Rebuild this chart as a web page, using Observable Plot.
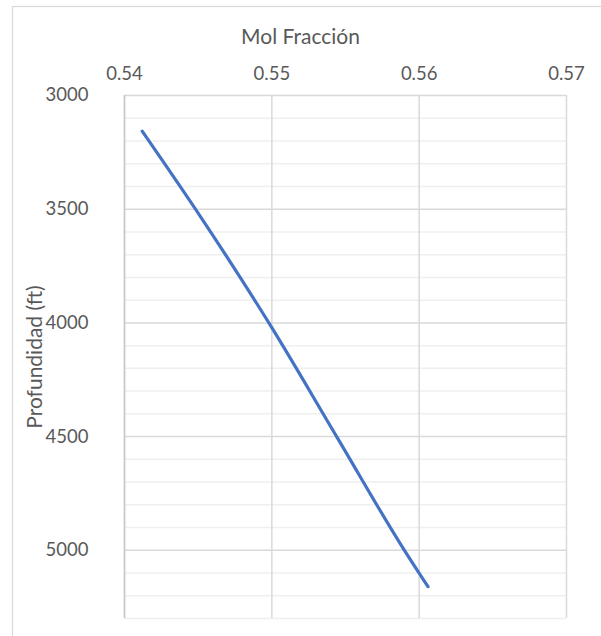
<!DOCTYPE html>
<html>
<head>
<meta charset="utf-8">
<script src="https://cdn.jsdelivr.net/npm/d3@7"></script>
<script src="https://cdn.jsdelivr.net/npm/@observablehq/plot@0.6"></script>
<style>
  html, body { margin: 0; padding: 0; background: #fff; }
  #chart { width: 601px; height: 636px; overflow: hidden; }
</style>
</head>
<body>
<div id="chart"></div>
<script>
// Data
const molFraction = [0.5412, 0.5452, 0.5498, 0.5544, 0.5590, 0.5606];
const depthFt = [3157, 3537, 4000, 4500, 5000, 5160];

const xTicks = [0.54, 0.55, 0.56, 0.57];
const yTicks = [3000, 3500, 4000, 4500, 5000];
const yMinorTicks = [3100, 3200, 3300, 3400, 3600, 3700, 3800, 3900, 4100, 4200, 4300, 4400, 4600, 4700, 4800, 4900, 5100, 5200, 5300];

const xTitle = "Mol Fracción";
const yTitle = "Profundidad (ft)";

const points = molFraction.map((x, i) => ({x, y: depthFt[i]}));

const FONT = "Lato, 'Open Sans', sans-serif";
const TEXT = "#595959";

const chart = Plot.plot({
  width: 601,
  height: 636,
  marginLeft: 124,
  marginRight: 35,
  marginTop: 95,
  marginBottom: 18,
  style: {fontFamily: FONT, fontSize: "18px", color: TEXT, background: "#fff"},
  x: {domain: [0.54, 0.57]},
  y: {domain: [3000, 5300], reverse: true},
  marks: [
    Plot.ruleY(yMinorTicks, {stroke: "#efefef", strokeWidth: 1.5}),
    Plot.ruleY(yTicks, {stroke: "#d9d9d9", strokeWidth: 1.5}),
    Plot.ruleX(xTicks, {stroke: "#d9d9d9", strokeWidth: 1.5}),
    Plot.ruleX([xTicks[0]], {stroke: "#c8c8c8", strokeWidth: 1.5}),
    Plot.line(points, {x: "x", y: "y", curve: "monotone-y", stroke: "#4472C4", strokeWidth: 3.2, strokeLinecap: "round", strokeLinejoin: "round"}),
    Plot.axisX({anchor: "top", ticks: xTicks, tickSize: 0, tickPadding: 16, tickFormat: d3.format(".2f"), fill: TEXT, fontSize: 18.5, label: null}),
    Plot.axisY({ticks: yTicks, tickSize: 0, tickPadding: 36, tickFormat: d => String(d), fill: TEXT, fontSize: 18.5, label: null}),
    Plot.text([xTitle], {frameAnchor: "top", dx: -45, dy: -66, fill: TEXT, fontSize: 21}),
    Plot.text([yTitle], {frameAnchor: "left", textAnchor: "middle", dx: -89, rotate: -90, fill: TEXT, fontSize: 21})
  ]
});

d3.select(chart).append("rect")
  .attr("x", 12.5).attr("y", 6.5)
  .attr("width", 620).attr("height", 660)
  .attr("fill", "none").attr("stroke", "#d9d9d9").attr("stroke-width", 1.2);

document.getElementById("chart").appendChild(chart);
</script>
</body>
</html>
